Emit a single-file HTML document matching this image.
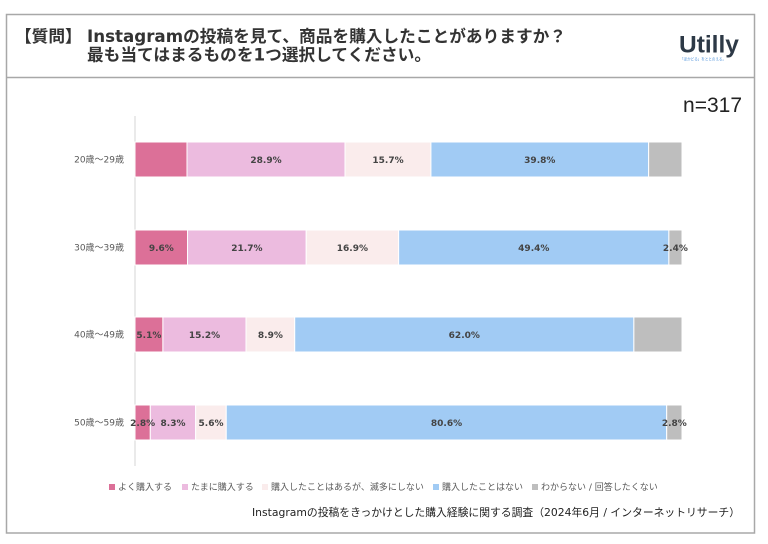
<!DOCTYPE html>
<html><head><meta charset="utf-8"><style>
html,body{margin:0;padding:0;background:#fff;}
svg{display:block;}
.t{font-family:"DejaVu Sans","Noto Sans CJK JP",sans-serif;}
.lb{font-family:"DejaVu Sans","Noto Sans CJK JP",sans-serif;font-weight:bold;font-size:9px;fill:#444;text-anchor:middle;}
</style></head><body>
<svg width="768" height="544" viewBox="0 0 768 544" xmlns="http://www.w3.org/2000/svg">
<rect x="0" y="0" width="768" height="544" fill="#fff"/>
<!-- frame -->
<rect x="6.5" y="14.5" width="748" height="518.5" fill="none" stroke="#a8a8a8" stroke-width="1.5"/>
<line x1="6.5" y1="77.5" x2="754.5" y2="77.5" stroke="#a8a8a8" stroke-width="1.5"/>
<!-- title -->
<text class="t" x="15" y="41.8" font-size="16.7" font-weight="bold" fill="#333">【質問】</text>
<text class="t" x="87" y="41.8" font-size="16.7" font-weight="bold" fill="#333">Instagramの投稿を見て、商品を購入したことがありますか？</text>
<text class="t" x="87" y="60.3" font-size="16.7" font-weight="bold" fill="#333">最も当てはまるものを1つ選択してください。</text>
<!-- logo -->
<text x="679" y="52.5" font-family="'Liberation Sans',sans-serif" font-weight="bold" font-size="24.5" fill="#2d3946">Utilly</text>
<text x="680" y="60.5" font-family="'Noto Sans CJK JP',sans-serif" font-size="4" fill="#4a8fd8" textLength="46" lengthAdjust="spacingAndGlyphs">「ほかどる」をととのえる。</text>
<!-- n -->
<text x="742" y="112" text-anchor="end" font-family="'Liberation Sans',sans-serif" font-size="21" fill="#222">n=317</text>
<!-- axis -->
<line x1="135" y1="116" x2="135" y2="466" stroke="#dcdcdc" stroke-width="1.2"/>
<!-- y labels -->
<g class="t" font-size="9" fill="#595959" text-anchor="end">
<text x="124" y="162.7">20歳〜29歳</text>
<text x="124" y="250.7">30歳〜39歳</text>
<text x="124" y="337.7">40歳〜49歳</text>
<text x="124" y="425.7">50歳〜59歳</text>
</g>
<!-- bars -->
<g stroke="#fff" stroke-width="1">
<!-- bar1 -->
<rect x="135" y="142" width="52.0" height="35" fill="#dc7098"/>
<rect x="187.0" y="142" width="158.05" height="35" fill="#ecbbdf"/>
<rect x="345.05" y="142" width="85.88" height="35" fill="#faecec"/>
<rect x="430.93" y="142" width="217.71" height="35" fill="#a1cbf4"/>
<rect x="648.64" y="142" width="33.36" height="35" fill="#bebebe"/>
<!-- bar2 -->
<rect x="135" y="230" width="52.51" height="35" fill="#dc7098"/>
<rect x="187.51" y="230" width="118.70" height="35" fill="#ecbbdf"/>
<rect x="306.21" y="230" width="92.44" height="35" fill="#faecec"/>
<rect x="398.65" y="230" width="270.22" height="35" fill="#a1cbf4"/>
<rect x="668.87" y="230" width="13.13" height="35" fill="#bebebe"/>
<!-- bar3 -->
<rect x="135" y="317" width="27.90" height="35" fill="#dc7098"/>
<rect x="162.90" y="317" width="83.14" height="35" fill="#ecbbdf"/>
<rect x="246.04" y="317" width="48.68" height="35" fill="#faecec"/>
<rect x="294.72" y="317" width="339.14" height="35" fill="#a1cbf4"/>
<rect x="633.86" y="317" width="48.14" height="35" fill="#bebebe"/>
<!-- bar4 -->
<rect x="135" y="405" width="15.30" height="35" fill="#dc7098"/>
<rect x="150.30" y="405" width="45.36" height="35" fill="#ecbbdf"/>
<rect x="195.66" y="405" width="30.60" height="35" fill="#faecec"/>
<rect x="226.26" y="405" width="440.44" height="35" fill="#a1cbf4"/>
<rect x="666.70" y="405" width="15.30" height="35" fill="#bebebe"/>
</g>
<!-- labels -->
<text class="lb" x="266.0" y="162.8">28.9%</text>
<text class="lb" x="388.0" y="162.8">15.7%</text>
<text class="lb" x="539.8" y="162.8">39.8%</text>

<text class="lb" x="161.3" y="250.8">9.6%</text>
<text class="lb" x="246.9" y="250.8">21.7%</text>
<text class="lb" x="352.4" y="250.8">16.9%</text>
<text class="lb" x="533.8" y="250.8">49.4%</text>
<text class="lb" x="675.4" y="250.8">2.4%</text>

<text class="lb" x="148.9" y="337.8">5.1%</text>
<text class="lb" x="204.5" y="337.8">15.2%</text>
<text class="lb" x="270.4" y="337.8">8.9%</text>
<text class="lb" x="464.3" y="337.8">62.0%</text>

<text class="lb" x="142.65" y="425.8">2.8%</text>
<text class="lb" x="173.0" y="425.8">8.3%</text>
<text class="lb" x="211.0" y="425.8">5.6%</text>
<text class="lb" x="446.5" y="425.8">80.6%</text>
<text class="lb" x="674.35" y="425.8">2.8%</text>
<!-- legend -->
<rect x="109" y="484" width="6" height="6" fill="#dc7098"/>
<rect x="182" y="484" width="6" height="6" fill="#ecbbdf"/>
<rect x="262" y="484" width="6" height="6" fill="#faecec"/>
<rect x="433" y="484" width="6" height="6" fill="#a1cbf4"/>
<rect x="532" y="484" width="6" height="6" fill="#bebebe"/>
<g class="t" font-size="9" fill="#595959">
<text x="118" y="490.2">よく購入する</text>
<text x="191" y="490.2">たまに購入する</text>
<text x="271" y="490.2">購入したことはあるが、滅多にしない</text>
<text x="442" y="490.2">購入したことはない</text>
<text x="541" y="490.2">わからない / 回答したくない</text>
</g>
<!-- footer -->
<text class="t" x="740" y="516" text-anchor="end" font-size="10.8" fill="#222">Instagramの投稿をきっかけとした購入経験に関する調査（2024年6月 / インターネットリサーチ）</text>
</svg>
</body></html>
